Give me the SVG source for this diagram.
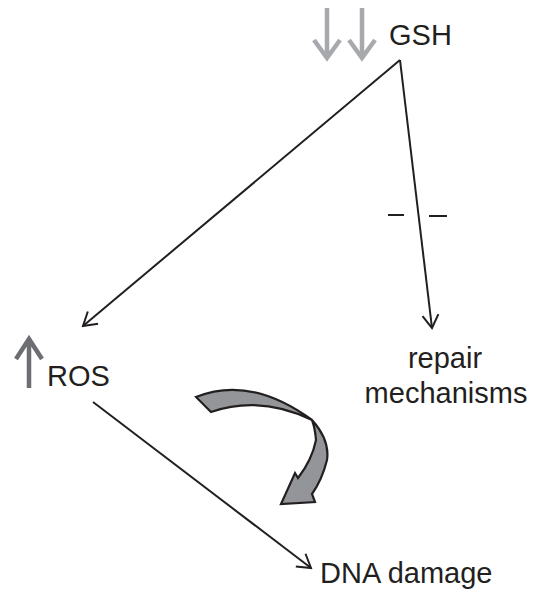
<svg xmlns="http://www.w3.org/2000/svg" width="537" height="594" viewBox="0 0 537 594">
<style>
.t{font-family:"Liberation Sans",Arial,sans-serif;font-size:29px;fill:#231f20}
.ln{stroke:#231f20;stroke-width:2;fill:none}
.ga{stroke:#a7a9ac;stroke-width:4.5;fill:none}
.da{stroke:#6d6e71;stroke-width:4.5;fill:none}
</style>
<defs>
<marker id="ah" viewBox="0 0 20 20" refX="18" refY="10" markerWidth="20" markerHeight="20" markerUnits="userSpaceOnUse" orient="auto">
<path d="M5,2 L18,10 L5,18" fill="none" stroke="#231f20" stroke-width="2"/>
</marker>
</defs>
<g id="gsh">
<path class="ga" d="M327,8 V58 M314,40 L327,58 L340,40"/>
<path class="ga" d="M362,8 V58 M349,40 L362,58 L375,40"/>
<text class="t" x="389" y="45">GSH</text>
</g>
<g id="ros">
<path class="da" d="M29,388 V340 M16,359 L29,339 L42,359"/>
<text class="t" x="47" y="386">ROS</text>
</g>
<g id="repair">
<text class="t" x="445" y="368" text-anchor="middle">repair</text>
<text class="t" x="446" y="403" text-anchor="middle">mechanisms</text>
</g>
<g id="dna">
<text class="t" x="320" y="583">DNA damage</text>
</g>
<g id="connectors">
<line class="ln" x1="400" y1="60" x2="83" y2="326" marker-end="url(#ah)"/>
<line class="ln" x1="400" y1="60" x2="432" y2="328" marker-end="url(#ah)"/>
<line class="ln" x1="388" y1="215" x2="404" y2="215"/>
<line class="ln" x1="429" y1="216" x2="447" y2="216"/>
<line class="ln" x1="93" y1="402" x2="311" y2="568" marker-end="url(#ah)"/>
</g>
<g id="curved-arrow">
<path d="M196,397 Q250,375 312,420 Q330,440 327,460 Q322,480 312,494 L315,502 L281,504 L295,473 L298,478 Q312,460 316,440 Q315,428 312,420 Q260,395 211,412 Z" fill="#939598" stroke="#231f20" stroke-width="2.2" stroke-linejoin="miter"/>
</g>
</svg>
